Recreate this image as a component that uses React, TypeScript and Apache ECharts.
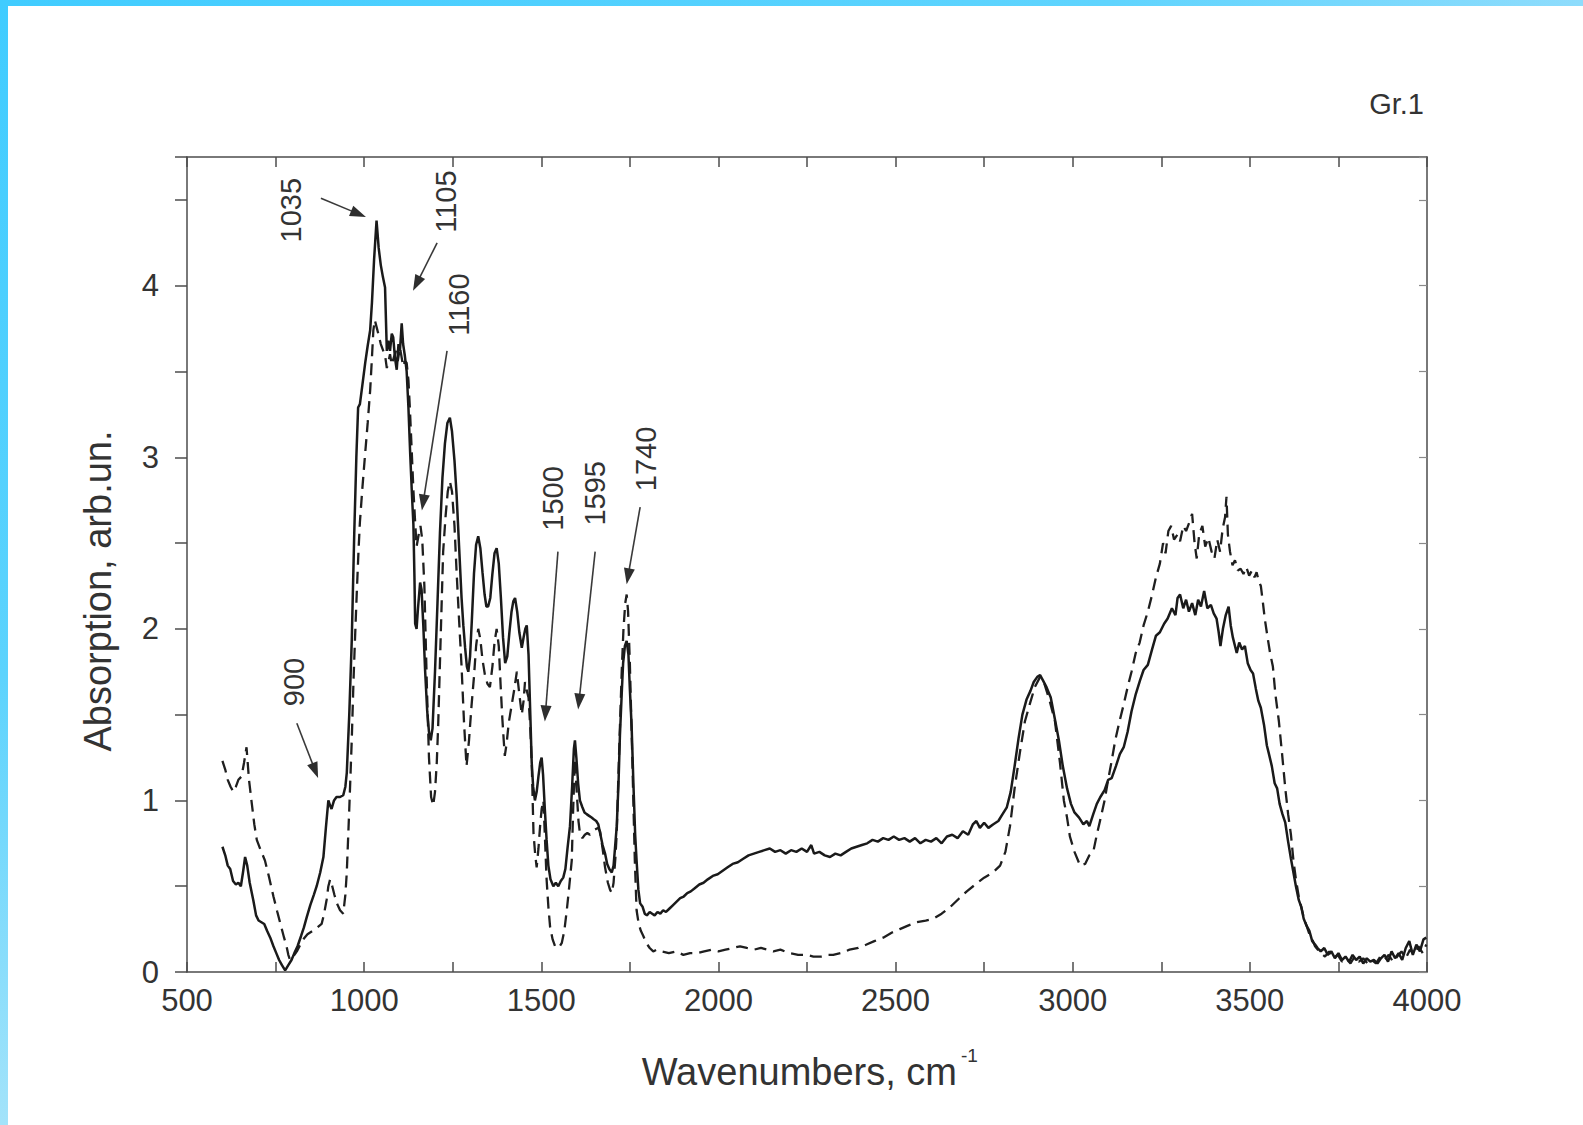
import { useEffect, useRef } from "react";
import * as echarts from "echarts";

// ---- tick labels ----
const xTickLabels = [500, 1000, 1500, 2000, 2500, 3000, 3500, 4000];
const yTickLabels = [0, 1, 2, 3, 4];

// ---- solid spectrum [wavenumber, absorption] ----
const solidSpectrum: [number, number][] = [
  [600, 0.73], [608, 0.68], [615, 0.62], [622, 0.6], [630, 0.53], [638, 0.51], [645, 0.52], [652, 0.5],
  [658, 0.58], [664, 0.67], [670, 0.62], [677, 0.52], [687, 0.42], [695, 0.33], [702, 0.3], [710, 0.29],
  [718, 0.28], [726, 0.24], [735, 0.2], [744, 0.15], [752, 0.11], [760, 0.07], [768, 0.04], [777, 0.01],
  [786, 0.04], [795, 0.07], [803, 0.11], [812, 0.15], [822, 0.21], [830, 0.26], [838, 0.32], [848, 0.39],
  [858, 0.45], [866, 0.5], [876, 0.58], [885, 0.67], [892, 0.84], [899, 1.0], [904, 0.97], [908, 0.95],
  [915, 1.0], [922, 1.02], [932, 1.02], [941, 1.03], [947, 1.08], [951, 1.16], [958, 1.5], [965, 1.93],
  [972, 2.55], [978, 3.0], [983, 3.29], [988, 3.31], [995, 3.42], [1003, 3.55], [1010, 3.65], [1017, 3.74],
  [1022, 3.9], [1028, 4.15], [1035, 4.38], [1041, 4.22], [1047, 4.12], [1053, 4.05], [1059, 3.99], [1064, 3.62],
  [1068, 3.68], [1073, 3.62], [1078, 3.72], [1082, 3.7], [1087, 3.58], [1092, 3.51], [1097, 3.66], [1101, 3.62],
  [1106, 3.78], [1110, 3.66], [1115, 3.59], [1120, 3.5], [1125, 3.29], [1130, 3.02], [1135, 2.78], [1139, 2.61],
  [1142, 2.3], [1144, 2.03], [1148, 2.0], [1152, 2.12], [1158, 2.27], [1162, 2.23], [1167, 2.02], [1172, 1.76],
  [1178, 1.52], [1183, 1.4], [1188, 1.35], [1193, 1.42], [1200, 1.75], [1207, 2.15], [1214, 2.56], [1221, 2.88],
  [1228, 3.08], [1235, 3.2], [1242, 3.23], [1248, 3.15], [1255, 2.98], [1261, 2.78], [1268, 2.48], [1275, 2.18],
  [1280, 2.02], [1285, 1.89], [1290, 1.78], [1294, 1.75], [1299, 1.84], [1304, 2.05], [1310, 2.32], [1316, 2.49],
  [1322, 2.54], [1328, 2.47], [1334, 2.33], [1340, 2.2], [1345, 2.13], [1350, 2.13], [1356, 2.18], [1362, 2.32],
  [1368, 2.44], [1374, 2.47], [1380, 2.38], [1386, 2.18], [1392, 1.95], [1398, 1.8], [1404, 1.84], [1410, 1.98],
  [1416, 2.1], [1421, 2.16], [1426, 2.18], [1432, 2.1], [1438, 1.98], [1445, 1.89], [1450, 1.95], [1455, 2.0],
  [1459, 2.02], [1464, 1.85], [1469, 1.5], [1473, 1.22], [1477, 1.08], [1482, 1.0], [1487, 1.05], [1492, 1.14],
  [1497, 1.22], [1501, 1.25], [1505, 1.15], [1510, 0.95], [1515, 0.77], [1520, 0.62], [1526, 0.54], [1534, 0.5],
  [1541, 0.52], [1548, 0.5], [1555, 0.53], [1562, 0.55], [1568, 0.6], [1574, 0.72], [1581, 0.85], [1587, 1.08],
  [1592, 1.3], [1595, 1.35], [1599, 1.25], [1604, 1.1], [1609, 1.0], [1616, 0.96], [1622, 0.93], [1628, 0.92],
  [1635, 0.91], [1642, 0.9], [1648, 0.89], [1655, 0.88], [1661, 0.86], [1667, 0.8], [1673, 0.74], [1680, 0.69],
  [1686, 0.63], [1692, 0.6], [1699, 0.58], [1704, 0.62], [1708, 0.72], [1713, 0.85], [1718, 1.1], [1722, 1.38],
  [1727, 1.62], [1731, 1.8], [1736, 1.9], [1741, 1.93], [1746, 1.85], [1750, 1.65], [1755, 1.43], [1760, 1.1],
  [1765, 0.8], [1769, 0.65], [1774, 0.48], [1779, 0.4], [1786, 0.38], [1792, 0.34], [1798, 0.33], [1806, 0.35],
  [1813, 0.34], [1820, 0.33], [1828, 0.35], [1836, 0.34], [1844, 0.36], [1852, 0.35], [1862, 0.37], [1872, 0.39],
  [1882, 0.41], [1892, 0.43], [1902, 0.44], [1912, 0.46], [1922, 0.47], [1934, 0.49], [1946, 0.51], [1958, 0.52],
  [1970, 0.54], [1984, 0.56], [1998, 0.57], [2012, 0.59], [2026, 0.61], [2040, 0.63], [2055, 0.64], [2070, 0.66],
  [2085, 0.68], [2100, 0.69], [2115, 0.7], [2130, 0.71], [2145, 0.72], [2160, 0.7], [2175, 0.71], [2190, 0.69],
  [2205, 0.71], [2220, 0.7], [2235, 0.72], [2250, 0.7], [2262, 0.74], [2270, 0.69], [2285, 0.7], [2300, 0.68],
  [2315, 0.67], [2330, 0.69], [2345, 0.68], [2360, 0.7], [2375, 0.72], [2390, 0.73], [2405, 0.74], [2420, 0.75],
  [2435, 0.77], [2450, 0.76], [2465, 0.78], [2480, 0.77], [2495, 0.79], [2510, 0.77], [2525, 0.78], [2540, 0.76],
  [2555, 0.78], [2570, 0.75], [2585, 0.77], [2600, 0.76], [2615, 0.78], [2630, 0.75], [2645, 0.79], [2660, 0.8],
  [2675, 0.78], [2690, 0.82], [2705, 0.8], [2718, 0.86], [2728, 0.88], [2738, 0.84], [2750, 0.87], [2762, 0.84],
  [2775, 0.86], [2790, 0.88], [2802, 0.92], [2814, 0.96], [2825, 1.05], [2836, 1.2], [2847, 1.36], [2858, 1.5],
  [2870, 1.59], [2881, 1.64], [2890, 1.69], [2900, 1.72], [2908, 1.73], [2916, 1.7], [2926, 1.66], [2938, 1.6],
  [2950, 1.47], [2961, 1.35], [2972, 1.2], [2984, 1.07], [2995, 0.98], [3005, 0.93], [3018, 0.9], [3030, 0.86],
  [3040, 0.88], [3047, 0.85], [3058, 0.92], [3068, 0.98], [3078, 1.02], [3090, 1.06], [3100, 1.12], [3110, 1.13],
  [3122, 1.2], [3133, 1.27], [3144, 1.31], [3155, 1.4], [3166, 1.52], [3178, 1.62], [3190, 1.7], [3200, 1.76],
  [3212, 1.79], [3224, 1.88], [3235, 1.96], [3246, 1.98], [3258, 2.03], [3268, 2.06], [3280, 2.12], [3290, 2.08],
  [3296, 2.18], [3303, 2.2], [3312, 2.12], [3320, 2.17], [3328, 2.1], [3337, 2.15], [3346, 2.08], [3354, 2.17],
  [3362, 2.13], [3371, 2.22], [3380, 2.12], [3390, 2.14], [3398, 2.09], [3406, 2.06], [3412, 1.98], [3417, 1.9],
  [3424, 2.0], [3432, 2.08], [3440, 2.13], [3446, 2.02], [3452, 1.95], [3458, 1.9], [3463, 1.86], [3470, 1.92],
  [3478, 1.88], [3486, 1.9], [3494, 1.8], [3502, 1.76], [3509, 1.74], [3517, 1.65], [3524, 1.58], [3531, 1.54],
  [3540, 1.44], [3548, 1.32], [3554, 1.27], [3562, 1.2], [3570, 1.1], [3577, 1.07], [3584, 0.98], [3592, 0.92],
  [3600, 0.87], [3608, 0.76], [3616, 0.66], [3623, 0.58], [3630, 0.5], [3638, 0.42], [3645, 0.38], [3652, 0.31],
  [3660, 0.27], [3668, 0.24], [3676, 0.18], [3684, 0.16], [3691, 0.14], [3700, 0.12], [3710, 0.14], [3720, 0.1],
  [3730, 0.12], [3740, 0.08], [3750, 0.11], [3760, 0.07], [3770, 0.09], [3780, 0.06], [3790, 0.1], [3800, 0.07],
  [3810, 0.09], [3820, 0.05], [3830, 0.08], [3840, 0.06], [3850, 0.07], [3860, 0.05], [3870, 0.08], [3880, 0.1],
  [3890, 0.06], [3900, 0.12], [3910, 0.08], [3920, 0.11], [3930, 0.07], [3940, 0.14], [3950, 0.18], [3960, 0.1],
  [3970, 0.16], [3980, 0.12], [3990, 0.19], [3998, 0.2],
];

// ---- dashed spectrum [wavenumber, absorption] ----
const dashedSpectrum: [number, number][] = [
  [600, 1.23], [608, 1.18], [615, 1.12], [623, 1.08], [631, 1.05], [638, 1.08], [645, 1.12], [654, 1.14],
  [661, 1.22], [668, 1.31], [675, 1.12], [683, 0.98], [690, 0.86], [697, 0.77], [708, 0.71], [720, 0.65],
  [732, 0.55], [744, 0.44], [755, 0.35], [765, 0.27], [774, 0.2], [781, 0.15], [786, 0.1], [791, 0.07],
  [800, 0.09], [810, 0.12], [820, 0.16], [828, 0.19], [840, 0.22], [855, 0.24], [868, 0.26], [880, 0.28],
  [887, 0.34], [894, 0.42], [899, 0.5], [904, 0.54], [910, 0.5], [916, 0.45], [923, 0.4], [932, 0.36],
  [941, 0.34], [947, 0.45], [951, 0.58], [958, 0.95], [965, 1.35], [970, 1.7], [974, 1.93], [979, 2.2],
  [984, 2.45], [988, 2.62], [995, 2.82], [1002, 3.0], [1010, 3.2], [1017, 3.39], [1022, 3.58], [1026, 3.74],
  [1030, 3.8], [1035, 3.76], [1040, 3.72], [1047, 3.66], [1054, 3.62], [1060, 3.58], [1064, 3.52], [1068, 3.55],
  [1073, 3.6], [1078, 3.54], [1085, 3.59], [1090, 3.62], [1095, 3.56], [1101, 3.64], [1106, 3.58], [1110, 3.53],
  [1115, 3.56], [1120, 3.55], [1125, 3.45], [1129, 3.29], [1134, 3.05], [1139, 2.81], [1144, 2.62], [1148, 2.48],
  [1154, 2.55], [1159, 2.6], [1164, 2.52], [1170, 2.25], [1177, 1.67], [1183, 1.25], [1189, 1.02], [1195, 0.97],
  [1200, 1.05], [1205, 1.22], [1209, 1.44], [1216, 1.95], [1223, 2.45], [1230, 2.66], [1236, 2.8], [1242, 2.86],
  [1248, 2.8], [1255, 2.6], [1261, 2.33], [1268, 2.05], [1275, 1.78], [1282, 1.45], [1289, 1.2], [1296, 1.35],
  [1303, 1.55], [1310, 1.72], [1316, 1.9], [1322, 2.0], [1328, 1.94], [1334, 1.82], [1341, 1.73], [1348, 1.68],
  [1355, 1.66], [1362, 1.78], [1368, 1.92], [1374, 2.0], [1380, 1.9], [1385, 1.68], [1390, 1.48], [1394, 1.35],
  [1397, 1.26], [1402, 1.33], [1408, 1.45], [1416, 1.55], [1424, 1.65], [1431, 1.75], [1438, 1.62], [1445, 1.5],
  [1450, 1.58], [1454, 1.69], [1459, 1.64], [1464, 1.6], [1469, 1.42], [1473, 1.22], [1478, 0.81], [1483, 0.68],
  [1487, 0.61], [1492, 0.72], [1497, 0.86], [1501, 0.95], [1506, 1.0], [1510, 0.8], [1515, 0.54], [1520, 0.38],
  [1525, 0.26], [1532, 0.19], [1539, 0.15], [1546, 0.14], [1552, 0.15], [1558, 0.17], [1565, 0.24], [1572, 0.36],
  [1579, 0.5], [1586, 0.65], [1590, 0.95], [1595, 1.24], [1600, 1.05], [1605, 0.88], [1609, 0.81], [1616, 0.78],
  [1623, 0.8], [1630, 0.81], [1637, 0.8], [1644, 0.82], [1652, 0.83], [1660, 0.84], [1666, 0.82], [1673, 0.72],
  [1680, 0.61], [1688, 0.52], [1694, 0.48], [1699, 0.46], [1704, 0.52], [1709, 0.66], [1713, 0.81], [1717, 1.1],
  [1722, 1.43], [1727, 1.75], [1732, 2.0], [1737, 2.15], [1741, 2.2], [1745, 2.1], [1750, 1.8], [1755, 1.4],
  [1760, 0.98], [1764, 0.65], [1769, 0.36], [1775, 0.28], [1781, 0.24], [1788, 0.21], [1796, 0.17], [1806, 0.14],
  [1816, 0.12], [1826, 0.13], [1840, 0.12], [1860, 0.11], [1880, 0.12], [1901, 0.1], [1920, 0.11], [1940, 0.11],
  [1960, 0.12], [1980, 0.13], [2000, 0.12], [2020, 0.13], [2040, 0.14], [2061, 0.15], [2080, 0.14], [2100, 0.13],
  [2120, 0.14], [2140, 0.13], [2155, 0.12], [2175, 0.13], [2200, 0.11], [2225, 0.1], [2250, 0.1], [2268, 0.09],
  [2290, 0.09], [2310, 0.1], [2324, 0.1], [2345, 0.11], [2370, 0.13], [2395, 0.14], [2418, 0.16], [2440, 0.18],
  [2465, 0.2], [2490, 0.23], [2512, 0.25], [2535, 0.27], [2560, 0.29], [2585, 0.3], [2606, 0.31], [2630, 0.34],
  [2655, 0.38], [2680, 0.43], [2701, 0.47], [2725, 0.51], [2750, 0.55], [2775, 0.58], [2795, 0.62], [2810, 0.7],
  [2823, 0.85], [2836, 1.07], [2851, 1.28], [2865, 1.46], [2880, 1.57], [2893, 1.66], [2908, 1.72], [2920, 1.68],
  [2935, 1.58], [2950, 1.46], [2964, 1.22], [2975, 1.0], [2984, 0.9], [2992, 0.79], [3005, 0.7], [3021, 0.62],
  [3035, 0.63], [3047, 0.68], [3058, 0.7], [3068, 0.8], [3077, 0.88], [3090, 1.0], [3100, 1.12], [3109, 1.22],
  [3120, 1.35], [3132, 1.46], [3144, 1.56], [3155, 1.66], [3166, 1.75], [3178, 1.86], [3189, 1.92], [3200, 2.02],
  [3212, 2.1], [3223, 2.19], [3235, 2.3], [3246, 2.38], [3255, 2.5], [3262, 2.44], [3270, 2.57], [3278, 2.6],
  [3286, 2.52], [3296, 2.55], [3303, 2.51], [3312, 2.6], [3320, 2.57], [3329, 2.62], [3337, 2.67], [3344, 2.5],
  [3350, 2.41], [3357, 2.55], [3366, 2.6], [3374, 2.48], [3383, 2.53], [3392, 2.45], [3400, 2.41], [3408, 2.52],
  [3416, 2.45], [3423, 2.58], [3430, 2.65], [3434, 2.77], [3438, 2.55], [3444, 2.45], [3451, 2.37], [3458, 2.4],
  [3466, 2.34], [3474, 2.35], [3482, 2.32], [3490, 2.36], [3498, 2.31], [3506, 2.34], [3513, 2.3], [3519, 2.33],
  [3525, 2.28], [3531, 2.25], [3537, 2.15], [3542, 2.06], [3550, 1.95], [3557, 1.86], [3565, 1.78], [3572, 1.62],
  [3582, 1.46], [3591, 1.27], [3600, 1.07], [3608, 0.92], [3616, 0.8], [3623, 0.65], [3630, 0.54], [3638, 0.44],
  [3645, 0.38], [3652, 0.32], [3660, 0.27], [3668, 0.22], [3676, 0.19], [3684, 0.15], [3692, 0.13], [3700, 0.11],
  [3712, 0.09], [3724, 0.12], [3736, 0.08], [3748, 0.1], [3760, 0.06], [3772, 0.08], [3784, 0.05], [3796, 0.09],
  [3808, 0.06], [3820, 0.08], [3832, 0.05], [3844, 0.07], [3856, 0.05], [3868, 0.09], [3880, 0.07], [3892, 0.1],
  [3904, 0.06], [3916, 0.09], [3928, 0.12], [3940, 0.08], [3952, 0.13], [3964, 0.1], [3976, 0.15], [3988, 0.11],
  [3998, 0.16],
];

// ---- peak annotations (in data coordinates) ----
const peakLabels = ["1035", "1105", "1160", "1500", "1595", "1740", "900"];
const labelAnchors: [number, number][] = [
  [793, 4.44], [1231, 4.49], [1268, 3.89], [1533, 2.76], [1653, 2.79], [1796, 2.99], [802, 1.69],
];
const arrowTails: [number, number][] = [
  [878, 4.51], [1206, 4.25], [1234, 3.62], [1547, 2.45], [1652, 2.45], [1779, 2.71], [810, 1.45],
];
const arrowTips: [number, number][] = [
  [1005, 4.4], [1138, 3.97], [1163, 2.69], [1510, 1.46], [1604, 1.53], [1741, 2.26], [870, 1.13],
];

const xTitle = "Wavenumbers, cm";
const xTitleSup = "-1";
const yTitle = "Absorption, arb.un.";
const cornerTag = "Gr.1";

export default function App() {
  const ref = useRef<HTMLDivElement>(null);

  useEffect(() => {
    if (!ref.current) return;
    const chart = echarts.init(ref.current, null, { renderer: "svg" });
    const font = "'Liberation Sans', Arial, Helvetica, sans-serif";
    const axisColor = "#4d4d4d";
    const textColor = "#333333";

    const baseX = {
      type: "value" as const,
      min: 500,
      max: 4000,
      interval: 250,
      splitLine: { show: false },
      axisLine: { show: true, onZero: false, lineStyle: { color: axisColor, width: 1.5 } },
    };
    const baseY = {
      type: "value" as const,
      min: 0,
      max: 4.75,
      interval: 0.5,
      splitLine: { show: false },
      axisLine: { show: true, onZero: false, lineStyle: { color: axisColor, width: 1.5 } },
    };

    chart.setOption({
      animation: false,
      backgroundColor: "#ffffff",
      grid: { left: 187, right: 156, top: 157, bottom: 153, containLabel: false },
      xAxis: [
        {
          ...baseX,
          position: "bottom",
          axisTick: { show: true, inside: true, length: 10, lineStyle: { color: axisColor, width: 1.5 } },
          axisLabel: {
            show: true,
            margin: 13,
            fontSize: 31,
            color: textColor,
            fontFamily: font,
            showMinLabel: true,
            showMaxLabel: true,
            formatter: (v: number) => (xTickLabels.includes(v) ? String(v) : ""),
          },
        },
        {
          ...baseX,
          position: "top",
          axisTick: { show: true, inside: true, length: 10, lineStyle: { color: axisColor, width: 1.5 } },
          axisLabel: { show: false },
        },
      ],
      yAxis: [
        {
          ...baseY,
          position: "left",
          axisTick: { show: true, inside: false, length: 12, lineStyle: { color: axisColor, width: 1.5 } },
          axisLabel: {
            show: true,
            margin: 28,
            fontSize: 31,
            color: textColor,
            fontFamily: font,
            formatter: (v: number) => (yTickLabels.includes(v) ? String(v) : ""),
          },
        },
        {
          ...baseY,
          position: "right",
          axisTick: { show: true, inside: true, length: 8, lineStyle: { color: "#8a8a8a", width: 1.2 } },
          axisLabel: { show: false },
        },
      ],
      series: [
        {
          type: "line",
          name: "dashed",
          xAxisIndex: 0,
          yAxisIndex: 0,
          data: dashedSpectrum,
          showSymbol: false,
          symbol: "none",
          z: 2,
          lineStyle: { color: "#1f1f1f", width: 2.3, type: [12, 7] },
        },
        {
          type: "line",
          name: "solid",
          xAxisIndex: 0,
          yAxisIndex: 0,
          data: solidSpectrum,
          showSymbol: false,
          symbol: "none",
          z: 3,
          lineStyle: { color: "#1a1a1a", width: 2.5 },
        },
      ],
    });

    const toPx = (p: [number, number]) =>
      chart.convertToPixel({ gridIndex: 0 }, p) as unknown as number[];

    const graphics: any[] = [];

    // blue scan frame
    graphics.push({
      type: "rect",
      shape: { x: 0, y: 0, width: 8, height: 1125 },
      style: {
        fill: new echarts.graphic.LinearGradient(0, 0, 0, 1, [
          { offset: 0, color: "#40ccff" },
          { offset: 0.6, color: "#5cd3fd" },
          { offset: 1, color: "#a3e3fa" },
        ]),
      },
      z: 100,
    });
    graphics.push({
      type: "rect",
      shape: { x: 0, y: 0, width: 1583, height: 6 },
      style: {
        fill: new echarts.graphic.LinearGradient(0, 0, 1, 0, [
          { offset: 0, color: "#40ccff" },
          { offset: 0.7, color: "#5fd4fe" },
          { offset: 1, color: "#8edcfc" },
        ]),
      },
      z: 100,
    });

    // titles
    graphics.push({
      type: "text",
      x: 957,
      y: 1072,
      style: { text: xTitle, fontSize: 38, fontFamily: font, fill: textColor, align: "right", verticalAlign: "middle" },
    });
    graphics.push({
      type: "text",
      x: 961,
      y: 1055,
      style: { text: xTitleSup, fontSize: 19, fontFamily: font, fill: textColor, align: "left", verticalAlign: "middle" },
    });
    graphics.push({
      type: "text",
      x: 98,
      y: 591,
      rotation: Math.PI / 2,
      style: { text: yTitle, fontSize: 38, fontFamily: font, fill: textColor, align: "center", verticalAlign: "middle" },
    });
    graphics.push({
      type: "text",
      x: 1424,
      y: 104,
      style: { text: cornerTag, fontSize: 29, fontFamily: font, fill: textColor, align: "right", verticalAlign: "middle" },
    });

    // peak labels and arrows
    peakLabels.forEach((label, i) => {
      const [tx, ty] = toPx(labelAnchors[i]);
      graphics.push({
        type: "text",
        x: tx,
        y: ty,
        rotation: Math.PI / 2,
        style: { text: label, fontSize: 29, fontFamily: font, fill: textColor, align: "center", verticalAlign: "middle" },
        z: 10,
      });
      const [ax, ay] = toPx(arrowTails[i]);
      const [bx, by] = toPx(arrowTips[i]);
      const dx = bx - ax;
      const dy = by - ay;
      const len = Math.sqrt(dx * dx + dy * dy) || 1;
      const ux = dx / len;
      const uy = dy / len;
      const headL = 16;
      const headW = 5.5;
      const baseXp = bx - ux * headL;
      const baseYp = by - uy * headL;
      graphics.push({
        type: "line",
        shape: { x1: ax, y1: ay, x2: baseXp + ux * 2, y2: baseYp + uy * 2 },
        style: { stroke: "#3a3a3a", lineWidth: 1.6 },
        z: 10,
      });
      graphics.push({
        type: "polygon",
        shape: {
          points: [
            [bx, by],
            [baseXp - uy * headW, baseYp + ux * headW],
            [baseXp + uy * headW, baseYp - ux * headW],
          ],
        },
        style: { fill: "#2e2e2e" },
        z: 10,
      });
    });

    chart.setOption({ graphic: graphics });

    return () => {
      chart.dispose();
    };
  }, []);

  return (
    <div
      ref={ref}
      style={{ position: "absolute", left: 0, top: 0, width: 1583, height: 1125, background: "#fff" }}
    />
  );
}
